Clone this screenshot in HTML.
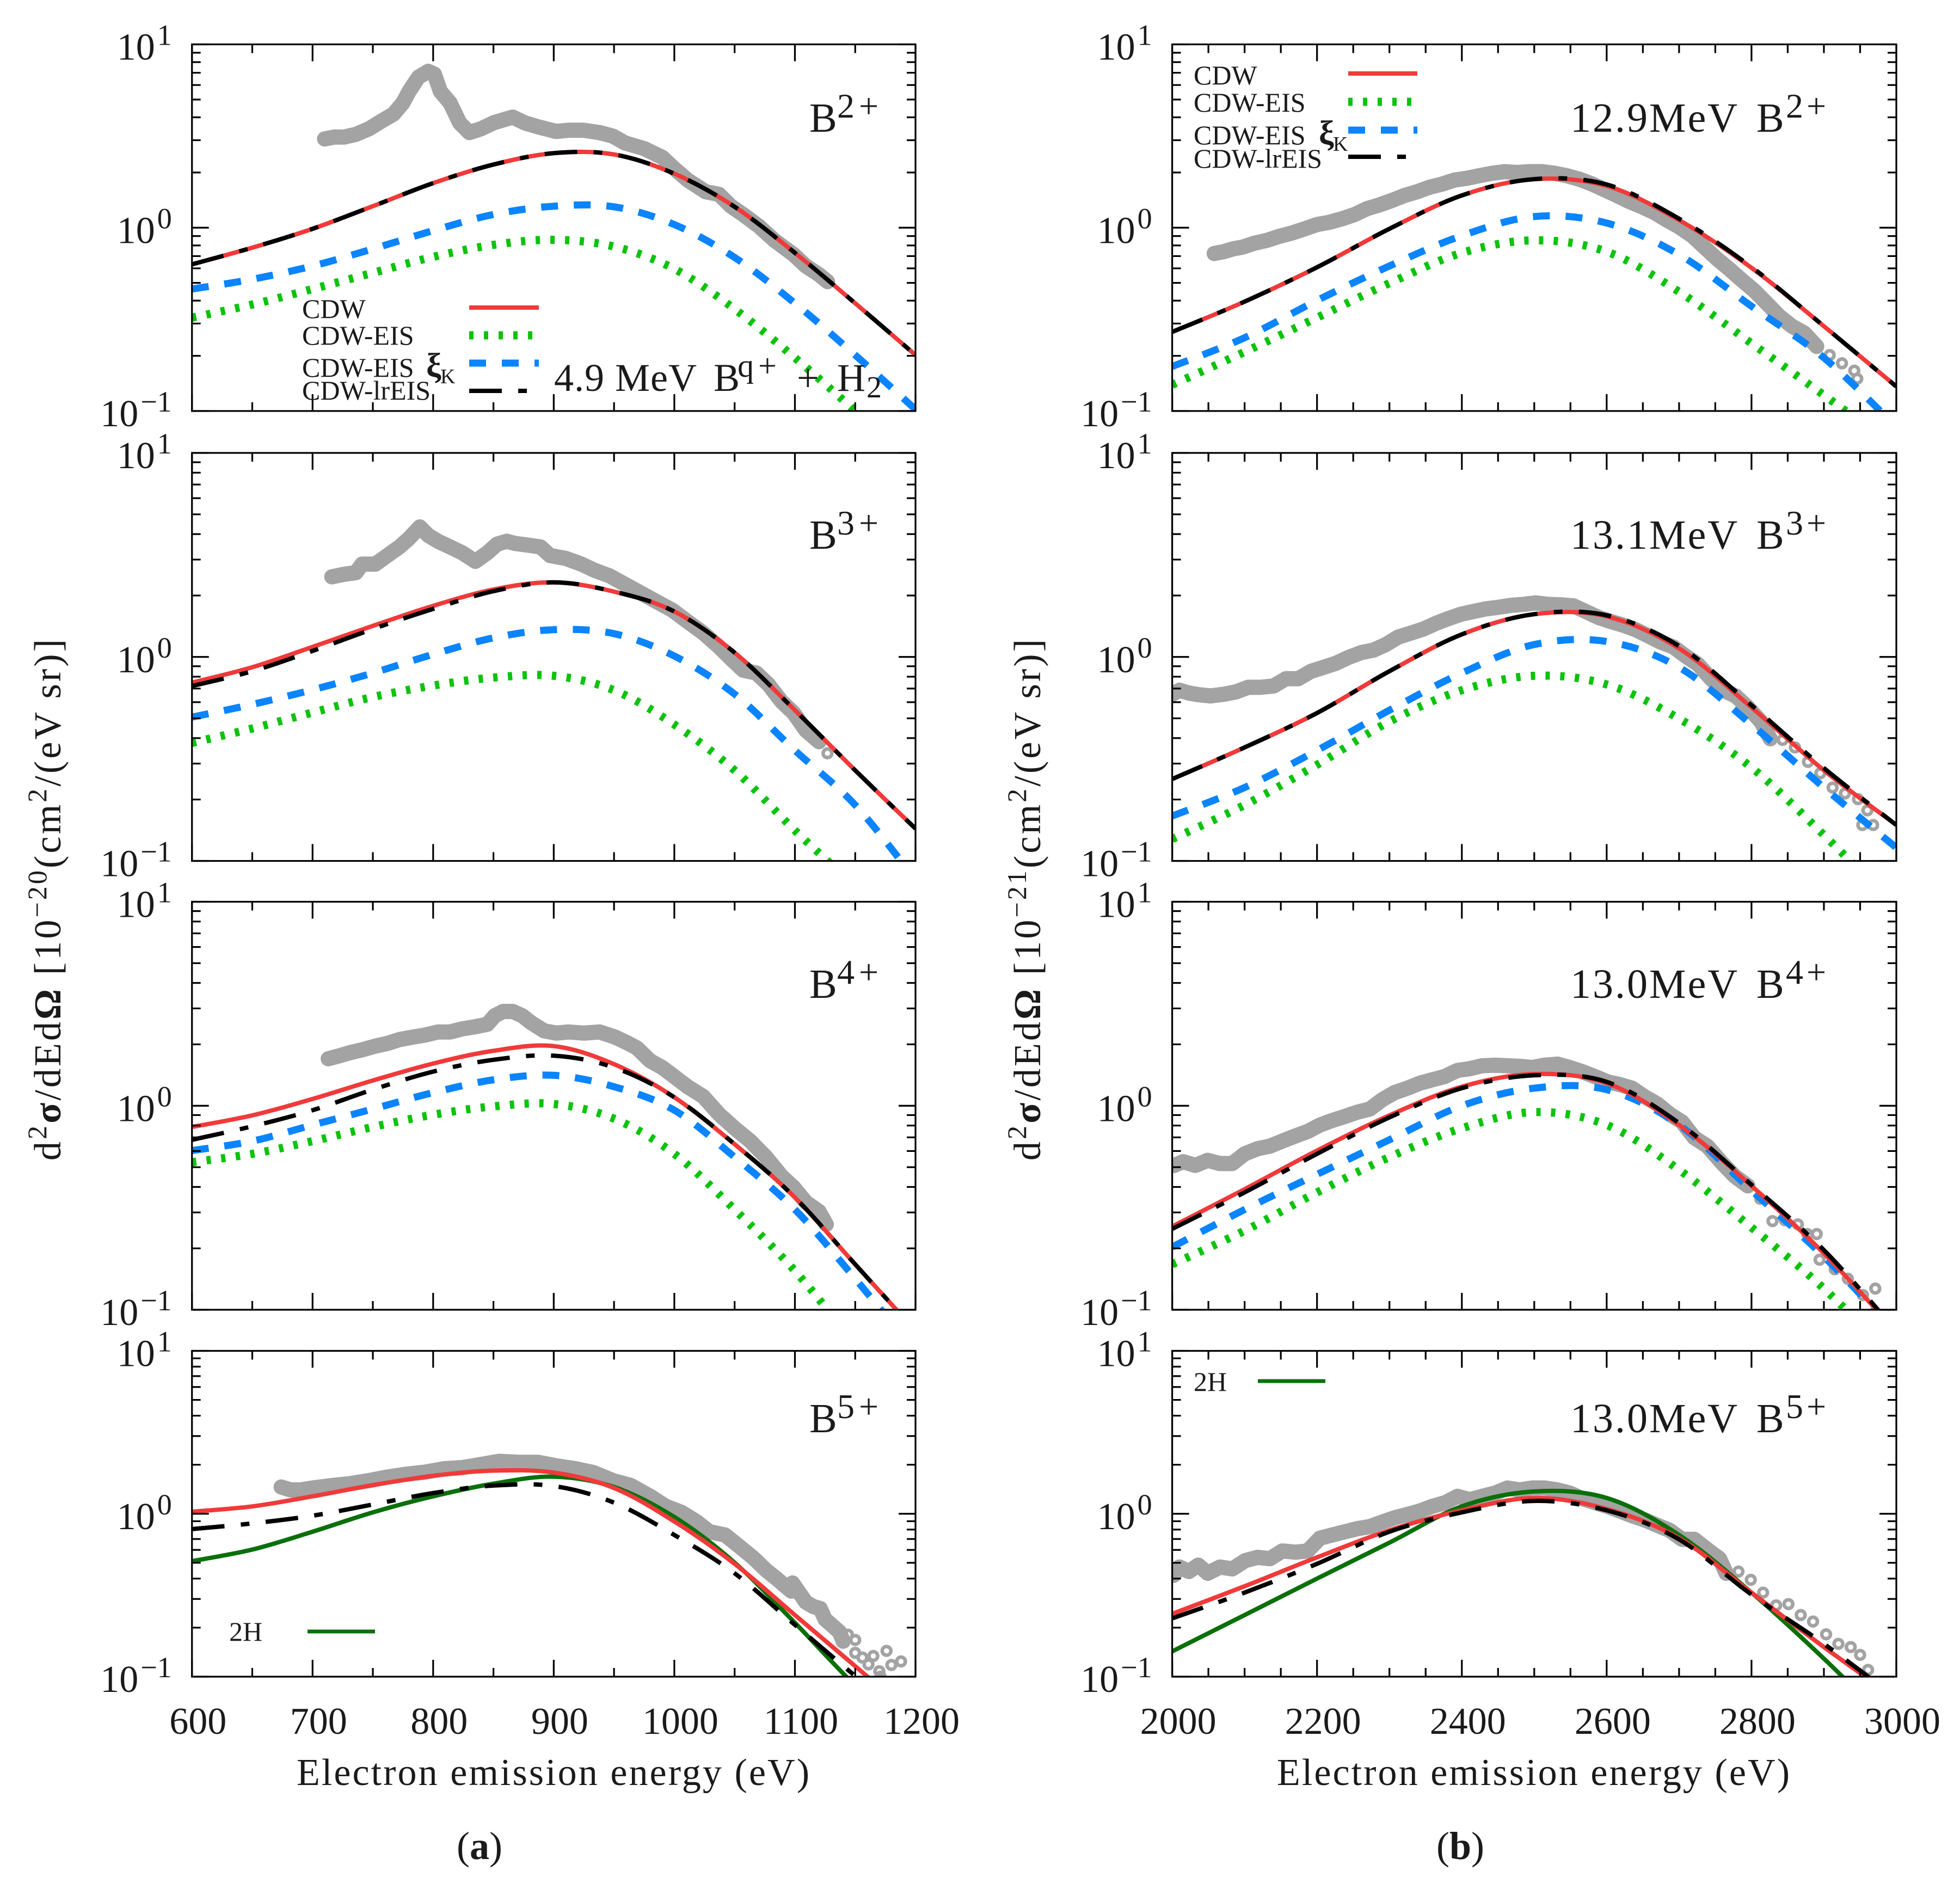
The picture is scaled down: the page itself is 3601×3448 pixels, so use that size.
<!DOCTYPE html>
<html lang="en">
<head>
<meta charset="utf-8">
<title>Electron emission cross sections</title>
<style>
html,body{margin:0;padding:0;background:#fff;}
svg{display:block;}
text{font-family:"Liberation Serif","DejaVu Serif",serif;fill:#1a1a1a;}
</style>
</head>
<body>
<svg id="figure" xmlns="http://www.w3.org/2000/svg" width="3601" height="3448" viewBox="0 0 3601 3448">
<rect width="3601" height="3448" fill="#fff"/>
<g id="plots"></g>

<g font-size="76">
<text x="1487" y="242">B<tspan x="1538" font-size="64" dy="-26" letter-spacing="8">2+</tspan></text>
<text x="1487" y="1008">B<tspan x="1538" font-size="64" dy="-26" letter-spacing="8">3+</tspan></text>
<text x="1487" y="1833">B<tspan x="1538" font-size="64" dy="-26" letter-spacing="8">4+</tspan></text>
<text x="1487" y="2631">B<tspan x="1538" font-size="64" dy="-26" letter-spacing="8">5+</tspan></text>
<text x="2885" y="242"><tspan letter-spacing="3">12.9MeV</tspan><tspan x="3227">B</tspan><tspan x="3281" font-size="64" dy="-26" letter-spacing="6">2+</tspan></text>
<text x="2885" y="1008"><tspan letter-spacing="3">13.1MeV</tspan><tspan x="3227">B</tspan><tspan x="3281" font-size="64" dy="-26" letter-spacing="6">3+</tspan></text>
<text x="2885" y="1833"><tspan letter-spacing="3">13.0MeV</tspan><tspan x="3227">B</tspan><tspan x="3281" font-size="64" dy="-26" letter-spacing="6">4+</tspan></text>
<text x="2885" y="2631"><tspan letter-spacing="3">13.0MeV</tspan><tspan x="3227">B</tspan><tspan x="3281" font-size="64" dy="-26" letter-spacing="6">5+</tspan></text>
<text x="1018" y="718" font-size="72"><tspan letter-spacing="1">4.9 MeV</tspan><tspan x="1311">B</tspan><tspan x="1355" font-size="60" dy="-26" letter-spacing="8">q+</tspan><tspan x="1464" dy="26">+</tspan><tspan x="1538">H</tspan><tspan x="1592" font-size="56" dy="12">2</tspan></text>
</g>

<g font-size="50">
<text x="555" y="584">CDW</text>
<text x="555" y="633">CDW-EIS</text>
<text x="555" y="692">CDW-EIS<tspan x="783" font-size="62" font-weight="bold">ξ</tspan><tspan x="809" font-size="38" dy="12">K</tspan></text>
<text x="555" y="734">CDW-lrEIS</text>
<line x1="862" x2="990" y1="565" y2="565" stroke="#f03a3a" stroke-width="8"/>
<line x1="862" x2="990" y1="616" y2="616" stroke="#0bc30b" stroke-width="15" stroke-dasharray="8 19"/>
<line x1="862" x2="990" y1="667" y2="667" stroke="#0a84ff" stroke-width="13" stroke-dasharray="31 29"/>
<line x1="862" x2="968" y1="718" y2="718" stroke="#000" stroke-width="8" stroke-dasharray="60 30 16 30"/>
</g>

<g font-size="50">
<text x="2193" y="155">CDW</text>
<text x="2193" y="205">CDW-EIS</text>
<text x="2193" y="265">CDW-EIS<tspan x="2423" font-size="62" font-weight="bold">ξ</tspan><tspan x="2449" font-size="38" dy="12">K</tspan></text>
<text x="2193" y="308">CDW-lrEIS</text>
<line x1="2477" x2="2604" y1="135" y2="135" stroke="#f03a3a" stroke-width="8"/>
<line x1="2477" x2="2604" y1="187" y2="187" stroke="#0bc30b" stroke-width="15" stroke-dasharray="8 19"/>
<line x1="2477" x2="2604" y1="239" y2="239" stroke="#0a84ff" stroke-width="13" stroke-dasharray="31 29"/>
<line x1="2477" x2="2583" y1="288" y2="288" stroke="#000" stroke-width="8" stroke-dasharray="60 30 16 30"/>
</g>

<g font-size="50">
<text x="421" y="3014">2H</text>
<line x1="565" x2="689" y1="2997" y2="2997" stroke="#0a700a" stroke-width="7"/>
<text x="2193" y="2555">2H</text>
<line x1="2311" x2="2435" y1="2537" y2="2537" stroke="#0a700a" stroke-width="7"/>
</g>

<text transform="translate(111,2132) rotate(-90)" font-size="70" textLength="958">d<tspan font-size="50" dy="-26">2</tspan><tspan dy="26" font-weight="bold">σ</tspan>/dEd<tspan font-weight="bold">Ω</tspan> [10<tspan font-size="50" dy="-26">−20</tspan><tspan dy="26">(cm</tspan><tspan font-size="50" dy="-26">2</tspan><tspan dy="26">/(eV sr)]</tspan></text>
<text transform="translate(1911,2132) rotate(-90)" font-size="70" textLength="958">d<tspan font-size="50" dy="-26">2</tspan><tspan dy="26" font-weight="bold">σ</tspan>/dEd<tspan font-weight="bold">Ω</tspan> [10<tspan font-size="50" dy="-26">−21</tspan><tspan dy="26">(cm</tspan><tspan font-size="50" dy="-26">2</tspan><tspan dy="26">/(eV sr)]</tspan></text>
<text x="545" y="3279" font-size="70" textLength="942">Electron emission energy (eV)</text>
<text x="2346" y="3279" font-size="70" textLength="942">Electron emission energy (eV)</text>
<text x="881" y="3415" font-size="72" text-anchor="middle">(<tspan font-weight="bold">a</tspan>)</text>
<text x="2683" y="3415" font-size="72" text-anchor="middle">(<tspan font-weight="bold">b</tspan>)</text>
</svg>

<script>
// ---------- axis labels ----------
const xTicksA = [600,700,800,900,1000,1100,1200];
const xMinorA = [650,750,850,950,1050,1150];
const xTicksB = [2000,2200,2400,2600,2800,3000];
const xMinorB = [2050,2100,2150,2250,2300,2350,2450,2500,2550,2650,2700,2750,2850,2900,2950];
const yDecades = [1,0,-1];
const yMinorFactors = [2,3,4,5,6,7,8,9];

// ---------- shared energy grids (eV) ----------
const energyA = [600,650,700,750,800,850,900,950,1000,1050,1100,1150,1200];
const energyB = [2000,2100,2200,2300,2400,2500,2600,2700,2800,2900,3000];

// ---------- panel a, B2+ ----------
const a1Cdw = [.631,.778,.986,1.31,1.75,2.21,2.55,2.51,1.97,1.3,.729,.387,.202];
const a1LrEis = [.631,.778,.986,1.31,1.75,2.21,2.55,2.51,1.97,1.3,.729,.387,.202];
const a1EisXi = [.463,.523,.618,.766,.964,1.18,1.31,1.3,1.04,.688,.387,.202,.102];
const a1Eis = [.323,.381,.463,.567,.693,.806,.859,.789,.596,.36,.195,.1,.05];
const a1ExpX = [710,718,726,736,747,757,767,775,780,788,796,801,806,814,822,830,840,850,858,866,876,887,902,912,925,938,949,959,975,990,1000,1011,1026,1037,1047,1057,1070,1083,1099,1109,1120,1127];
const a1ExpY = [3.05,3.12,3.12,3.23,3.47,3.81,4.16,4.8,5.54,6.64,7.13,6.88,5.54,4.8,3.73,3.3,3.47,3.73,3.87,4.01,3.73,3.55,3.35,3.4,3.4,3.3,3.16,2.9,2.7,2.42,2.1,1.82,1.57,1.52,1.31,1.18,1.02,.853,.713,.618,.554,.508];

// ---------- panel a, B3+ ----------
const a2Cdw = [.748,.89,1.12,1.42,1.78,2.14,2.32,2.09,1.67,1.05,.548,.278,.144];
const a2LrEis = [.72,.851,1.07,1.37,1.72,2.1,2.32,2.09,1.67,1.05,.548,.278,.144];
const a2EisXi = [.507,.585,.69,.834,1.03,1.24,1.36,1.3,1.01,.657,.348,.188,.081];
const a2Eis = [.379,.446,.534,.636,.724,.792,.808,.687,.466,.278,.141,.074,.035];
const a2ExpX = [716,726,736,741,752,762,772,780,789,796,804,814,824,835,845,853,861,868,879,889,897,910,923,933,946,959,972,985,998,1011,1024,1037,1047,1057,1068,1078,1089,1099,1109,1120,1127];
const a2ExpY = [2.47,2.54,2.59,2.85,2.85,3.14,3.46,3.81,4.34,3.94,3.69,3.46,3.24,2.94,3.24,3.57,3.69,3.6,3.53,3.46,3.14,3.04,2.85,2.67,2.5,2.27,2.06,1.87,1.7,1.49,1.31,1.12,.98,.861,.834,.733,.604,.531,.437,.384,.337];

// ---------- panel a, B4+ ----------
const a3Cdw = [.787,.897,1.08,1.33,1.61,1.86,1.96,1.6,1.1,.648,.355,.167,.079];
const a3LrEis = [.681,.793,.951,1.2,1.47,1.68,1.76,1.54,1.1,.648,.355,.167,.079];
const a3EisXi = [.603,.671,.805,.964,1.16,1.34,1.41,1.24,.951,.56,.31,.142,.062];
const a3Eis = [.529,.581,.671,.787,.904,.993,1.02,.865,.581,.31,.155,.068,.03];
const a3ExpX = [713,721,731,741,752,762,772,783,793,804,814,824,835,845,851,858,866,874,881,892,902,912,925,938,951,962,969,980,990,1000,1011,1024,1037,1050,1063,1076,1089,1099,1109,1120,1126];
const a3ExpY = [1.7,1.75,1.82,1.88,1.96,2.02,2.11,2.17,2.22,2.3,2.3,2.38,2.44,2.51,2.76,2.9,2.9,2.76,2.56,2.33,2.27,2.3,2.27,2.3,2.17,2.02,1.92,1.66,1.54,1.39,1.24,1.11,.91,.776,.671,.56,.451,.398,.337,.303,.262];

// ---------- panel a, B5+ ----------
const a4Cdw = [1.03,1.11,1.28,1.5,1.71,1.84,1.79,1.44,.897,.493,.239,.116,.056];
const a4LrEis = [.805,.873,.973,1.14,1.34,1.49,1.48,1.17,.741,.431,.208,.101,.05];
const a4TwoH = [.512,.603,.776,1.02,1.28,1.53,1.69,1.46,.955,.501,.214,.088,.04];
const a4ExpX = [674,682,690,700,716,731,747,762,778,793,809,824,840,855,871,887,902,918,933,949,964,980,993,1006,1019,1029,1042,1052,1065,1076,1086,1097,1098,1109,1115,1121,1125,1129,1137,1140,1144,1150,1150,1156,1161,1165,1170,1171,1176,1180,1188];
const a4ExpY = [1.46,1.4,1.4,1.44,1.49,1.53,1.6,1.68,1.75,1.8,1.89,1.92,2.01,2.1,2.07,2.07,1.97,1.89,1.79,1.6,1.49,1.28,1.11,1.02,.889,.776,.741,.647,.54,.451,.393,.335,.376,.287,.27,.262,.225,.212,.188,.165,.181,.168,.14,.131,.119,.134,.108,.1,.144,.118,.124];

// ---------- panel b, B2+ ----------
const b1Cdw = [.27,.395,.608,.986,1.5,1.84,1.69,1.1,.604,.29,.136];
const b1LrEis = [.27,.395,.608,.986,1.5,1.84,1.72,1.12,.61,.29,.136];
const b1EisXi = [.175,.251,.401,.618,.904,1.15,1.06,.713,.373,.195,.082];
const b1Eis = [.139,.21,.323,.498,.729,.853,.74,.447,.234,.122,.063];
const b1ExpX = [2058,2071,2084,2097,2114,2131,2148,2166,2183,2200,2217,2235,2252,2269,2286,2304,2321,2338,2355,2373,2390,2407,2424,2442,2459,2476,2493,2511,2528,2545,2562,2580,2597,2614,2631,2649,2666,2683,2700,2718,2735,2752,2769,2787,2804,2821,2838,2856,2873,2890,2908,2925,2942,2946];
const b1ExpY = [.723,.74,.766,.783,.824,.853,.897,.937,.986,1.04,1.07,1.12,1.18,1.27,1.33,1.41,1.5,1.57,1.66,1.73,1.82,1.86,1.92,1.98,2.02,2,2.02,2.02,1.98,1.92,1.84,1.73,1.61,1.5,1.39,1.3,1.21,1.1,1.01,.904,.783,.678,.596,.516,.453,.387,.33,.29,.266,.225,.202,.182,.166,.15];

// ---------- panel b, B3+ ----------
const b2Cdw = [.252,.36,.531,.851,1.29,1.62,1.58,1.1,.566,.278,.15];
const b2LrEis = [.252,.36,.531,.851,1.29,1.62,1.6,1.13,.58,.285,.15];
const b2EisXi = [.166,.229,.348,.548,.834,1.15,1.19,.889,.466,.229,.116];
const b2Eis = [.128,.188,.296,.482,.687,.808,.733,.498,.287,.134,.059];
const b2ExpX = [2000,2010,2023,2036,2053,2071,2088,2105,2122,2140,2157,2174,2192,2209,2226,2243,2261,2278,2295,2312,2330,2347,2364,2381,2399,2416,2433,2450,2468,2485,2502,2519,2537,2554,2571,2589,2606,2623,2640,2657,2675,2692,2709,2726,2744,2761,2778,2795,2813,2826,2843,2860,2878,2895,2912,2929,2947,2960,2953,2968];
const b2ExpY = [.656,.687,.665,.653,.644,.656,.674,.71,.71,.72,.782,.782,.851,.889,.931,.993,1.05,1.08,1.15,1.25,1.31,1.37,1.46,1.54,1.62,1.67,1.72,1.75,1.79,1.81,1.84,1.81,1.8,1.78,1.67,1.56,1.49,1.43,1.36,1.27,1.18,1.12,1.01,.92,.782,.687,.644,.566,.482,.397,.392,.36,.306,.269,.229,.214,.201,.177,.15,.15];

// ---------- panel b, B4+ ----------
const b3Cdw = [.256,.39,.603,.897,1.24,1.43,1.29,.805,.405,.189,.078];
const b3LrEis = [.249,.376,.581,.877,1.22,1.41,1.31,.822,.41,.196,.079];
const b3EisXi = [.203,.31,.461,.681,1,1.22,1.2,.805,.385,.182,.077];
const b3Eis = [.167,.244,.376,.56,.776,.931,.805,.485,.253,.127,.056];
const b3ExpX = [2003,2015,2032,2049,2066,2083,2100,2118,2135,2152,2170,2187,2204,2221,2238,2256,2273,2290,2307,2325,2342,2359,2376,2394,2411,2428,2445,2463,2480,2497,2514,2532,2549,2566,2584,2601,2618,2635,2652,2670,2687,2704,2721,2739,2760,2777,2795,2812,2829,2846,2864,2877,2894,2890,2915,2933,2954,2971];
const b3ExpY = [.51,.532,.51,.54,.521,.521,.581,.616,.634,.671,.711,.748,.805,.847,.885,.931,.964,1.07,1.16,1.22,1.29,1.34,1.39,1.49,1.52,1.57,1.58,1.57,1.56,1.54,1.58,1.6,1.54,1.47,1.39,1.31,1.27,1.22,1.11,1.02,.91,.834,.697,.634,.521,.451,.405,.35,.272,.275,.262,.235,.176,.235,.158,.142,.118,.127];

// ---------- panel b, B5+ ----------
const b4Cdw = [.243,.359,.54,.791,1.05,1.25,1.07,.708,.328,.152,.073];
const b4LrEis = [.228,.328,.493,.776,1.02,1.2,1.05,.696,.319,.159,.074];
const b4TwoH = [.143,.239,.4,.665,1.11,1.37,1.25,.741,.328,.129,.047];
const b4ExpX = [2002,2010,2023,2036,2049,2066,2083,2101,2118,2135,2152,2170,2187,2204,2221,2239,2256,2273,2290,2308,2325,2342,2359,2377,2394,2411,2428,2446,2463,2480,2497,2514,2532,2549,2566,2584,2601,2618,2635,2653,2670,2687,2704,2721,2739,2756,2765,2782,2799,2816,2834,2851,2868,2885,2903,2920,2937,2950,2961];
const b4ExpY = [.419,.471,.442,.484,.431,.471,.459,.516,.54,.53,.591,.581,.591,.708,.741,.776,.811,.834,.889,.947,.991,1.04,1.11,1.17,1.28,1.22,1.28,1.34,1.44,1.4,1.44,1.44,1.4,1.34,1.24,1.17,1.11,1.04,.973,.914,.849,.791,.697,.697,.603,.53,.431,.442,.393,.328,.274,.279,.239,.218,.182,.159,.152,.136,.11];

// ---------- drawing ----------
const NS = 'http://www.w3.org/2000/svg';
const root = document.getElementById('plots');
const RED = '#f03a3a', GREEN = '#0bc30b', BLUE = '#0a84ff', BLACK = '#000', DARKGREEN = '#0a700a', GREY = '#a3a3a3';

function make(tag, attrs, parent) {
  const el = document.createElementNS(NS, tag);
  for (const k in attrs) el.setAttribute(k, attrs[k]);
  parent.appendChild(el);
  return el;
}

function smoothPath(pts) {
  let d = 'M' + pts[0][0].toFixed(1) + ' ' + pts[0][1].toFixed(1);
  for (let i = 0; i < pts.length - 1; i++) {
    const p0 = pts[Math.max(i - 1, 0)], p1 = pts[i], p2 = pts[i + 1], p3 = pts[Math.min(i + 2, pts.length - 1)];
    const c1x = p1[0] + (p2[0] - p0[0]) / 6, c1y = p1[1] + (p2[1] - p0[1]) / 6;
    const c2x = p2[0] - (p3[0] - p1[0]) / 6, c2y = p2[1] - (p3[1] - p1[1]) / 6;
    d += 'C' + c1x.toFixed(1) + ' ' + c1y.toFixed(1) + ' ' + c2x.toFixed(1) + ' ' + c2y.toFixed(1) + ' ' + p2[0].toFixed(1) + ' ' + p2[1].toFixed(1);
  }
  return d;
}

function drawCurve(g, panelId, seriesName, xs, ys, sx, sy, stroke, width, dash) {
  const pts = xs.map((x, i) => [sx(x), sy(ys[i])]);
  const path = make('path', { d: smoothPath(pts), fill: 'none', stroke: stroke, 'stroke-width': width }, g);
  if (dash) path.setAttribute('stroke-dasharray', dash);
  
  
}

function drawPanel(cfg) {
  const left = cfg.left, right = cfg.left + cfg.width, top = cfg.top, bottom = cfg.bottom;
  const sx = v => left + (v - cfg.xMin) / (cfg.xMax - cfg.xMin) * (right - left);
  const sy = v => bottom - (Math.log10(v) + 1) / 2 * (bottom - top);

  const g = make('g', {}, root);
  
  

  const clip = make('clipPath', { id: 'clip-' + cfg.id }, g);
  make('rect', { x: left, y: top, width: right - left, height: bottom - top }, clip);

  const plot = make('g', { 'clip-path': 'url(#clip-' + cfg.id + ')' }, g);
  
  

  const scatter = make('g', { fill: 'none', stroke: GREY, 'stroke-width': 6.5 }, plot);
  
  

  // the densely overlapping measurements merge into a solid band up to bandEnd
  const bandPts = [];
  cfg.expX.forEach((x, i) => {
    if (x <= cfg.bandEnd) bandPts.push(sx(x).toFixed(1) + ',' + sy(cfg.expY[i]).toFixed(1));
  });
  const band = make('polyline', { points: bandPts.join(' '), 'stroke-width': 28, 'stroke-linejoin': 'round', 'stroke-linecap': 'round' }, scatter);
  
  

  cfg.expX.forEach((x, i) => {
    const c = make('circle', { cx: sx(x).toFixed(1), cy: sy(cfg.expY[i]).toFixed(1), r: 8 }, scatter);
    
    
  });

  if (cfg.eis) drawCurve(plot, cfg.id, 'cdw-eis', cfg.xs, cfg.eis, sx, sy, GREEN, 15, '8 19');
  if (cfg.xi) drawCurve(plot, cfg.id, 'cdw-eis-xi', cfg.xs, cfg.xi, sx, sy, BLUE, 13, '31 29');
  if (cfg.twoH) drawCurve(plot, cfg.id, '2h', cfg.xs, cfg.twoH, sx, sy, DARKGREEN, 8);
  drawCurve(plot, cfg.id, 'cdw', cfg.xs, cfg.cdw, sx, sy, RED, 8);
  drawCurve(plot, cfg.id, 'cdw-lreis', cfg.xs, cfg.lr, sx, sy, BLACK, 8, '60 30 16 30');

  const axes = make('g', { stroke: '#000', 'stroke-width': 3.2, fill: 'none' }, g);
  
  

  const frame = make('rect', { x: left, y: top, width: right - left, height: bottom - top }, axes);
  
  

  function tick(x1, y1, x2, y2, name) {
    const t = make('line', { x1: x1, y1: y1, x2: x2, y2: y2 }, axes);
    
    
  }
  const MAJOR = 31, MINOR = 16;

  cfg.xTicks.forEach(v => {
    const x = sx(v);
    tick(x, top, x, top + MAJOR, 'x-major-tick');
    tick(x, bottom, x, bottom - MAJOR, 'x-major-tick');
  });
  cfg.xMinor.forEach(v => {
    const x = sx(v);
    tick(x, top, x, top + MINOR, 'x-minor-tick');
    tick(x, bottom, x, bottom - MINOR, 'x-minor-tick');
  });
  yDecades.forEach(e => {
    const y = sy(Math.pow(10, e));
    tick(left, y, left + MAJOR, y, 'y-major-tick');
    tick(right, y, right - MAJOR, y, 'y-major-tick');
    const label = make('text', { x: cfg.left - 37, y: y + 28, 'font-size': 70, 'text-anchor': 'end' }, g);
    
    
    const base = make('tspan', {}, label);
    base.textContent = '10';
    const sup = make('tspan', { 'font-size': 54, dy: -27, dx: 4 }, label);
    sup.textContent = String(e).replace('-', '\u2212');
    if (e > -1) {
      yMinorFactors.forEach(f => {
        const ym = sy(f * Math.pow(10, e - 1));
        tick(left, ym, left + MINOR, ym, 'y-minor-tick');
        tick(right, ym, right - MINOR, ym, 'y-minor-tick');
      });
    }
  });

  if (cfg.showX) {
    cfg.xTicks.forEach(v => {
      const label = make('text', { x: sx(v) + 11, y: 3185, 'font-size': 70, 'text-anchor': 'middle' }, g);
      
      
      label.textContent = String(v);
    });
  }
}

const colA = { left: 352.7, width: 1329.3, xMin: 600, xMax: 1200, xTicks: xTicksA, xMinor: xMinorA, xs: energyA };
const colB = { left: 2153.6, width: 1330.4, xMin: 2000, xMax: 3000, xTicks: xTicksB, xMinor: xMinorB, xs: energyB };

drawPanel(Object.assign({}, colA, { id: 'a-b2', top: 81.5, bottom: 755, bandEnd: 1127, cdw: a1Cdw, lr: a1LrEis, xi: a1EisXi, eis: a1Eis, expX: a1ExpX, expY: a1ExpY }));
drawPanel(Object.assign({}, colA, { id: 'a-b3', top: 832, bottom: 1581.5, bandEnd: 1120, cdw: a2Cdw, lr: a2LrEis, xi: a2EisXi, eis: a2Eis, expX: a2ExpX, expY: a2ExpY }));
drawPanel(Object.assign({}, colA, { id: 'a-b4', top: 1656.5, bottom: 2406, bandEnd: 1126, cdw: a3Cdw, lr: a3LrEis, xi: a3EisXi, eis: a3Eis, expX: a3ExpX, expY: a3ExpY }));
drawPanel(Object.assign({}, colA, { id: 'a-b5', top: 2481.5, bottom: 3080, bandEnd: 1140, showX: true, cdw: a4Cdw, lr: a4LrEis, twoH: a4TwoH, expX: a4ExpX, expY: a4ExpY }));

drawPanel(Object.assign({}, colB, { id: 'b-b2', top: 81.5, bottom: 755, bandEnd: 2890, cdw: b1Cdw, lr: b1LrEis, xi: b1EisXi, eis: b1Eis, expX: b1ExpX, expY: b1ExpY }));
drawPanel(Object.assign({}, colB, { id: 'b-b3', top: 832, bottom: 1581.5, bandEnd: 2830, cdw: b2Cdw, lr: b2LrEis, xi: b2EisXi, eis: b2Eis, expX: b2ExpX, expY: b2ExpY }));
drawPanel(Object.assign({}, colB, { id: 'b-b4', top: 1656.5, bottom: 2406, bandEnd: 2800, cdw: b3Cdw, lr: b3LrEis, xi: b3EisXi, eis: b3Eis, expX: b3ExpX, expY: b3ExpY }));
drawPanel(Object.assign({}, colB, { id: 'b-b5', top: 2481.5, bottom: 3080, bandEnd: 2780, showX: true, cdw: b4Cdw, lr: b4LrEis, twoH: b4TwoH, expX: b4ExpX, expY: b4ExpY }));
</script>
</body>
</html>
